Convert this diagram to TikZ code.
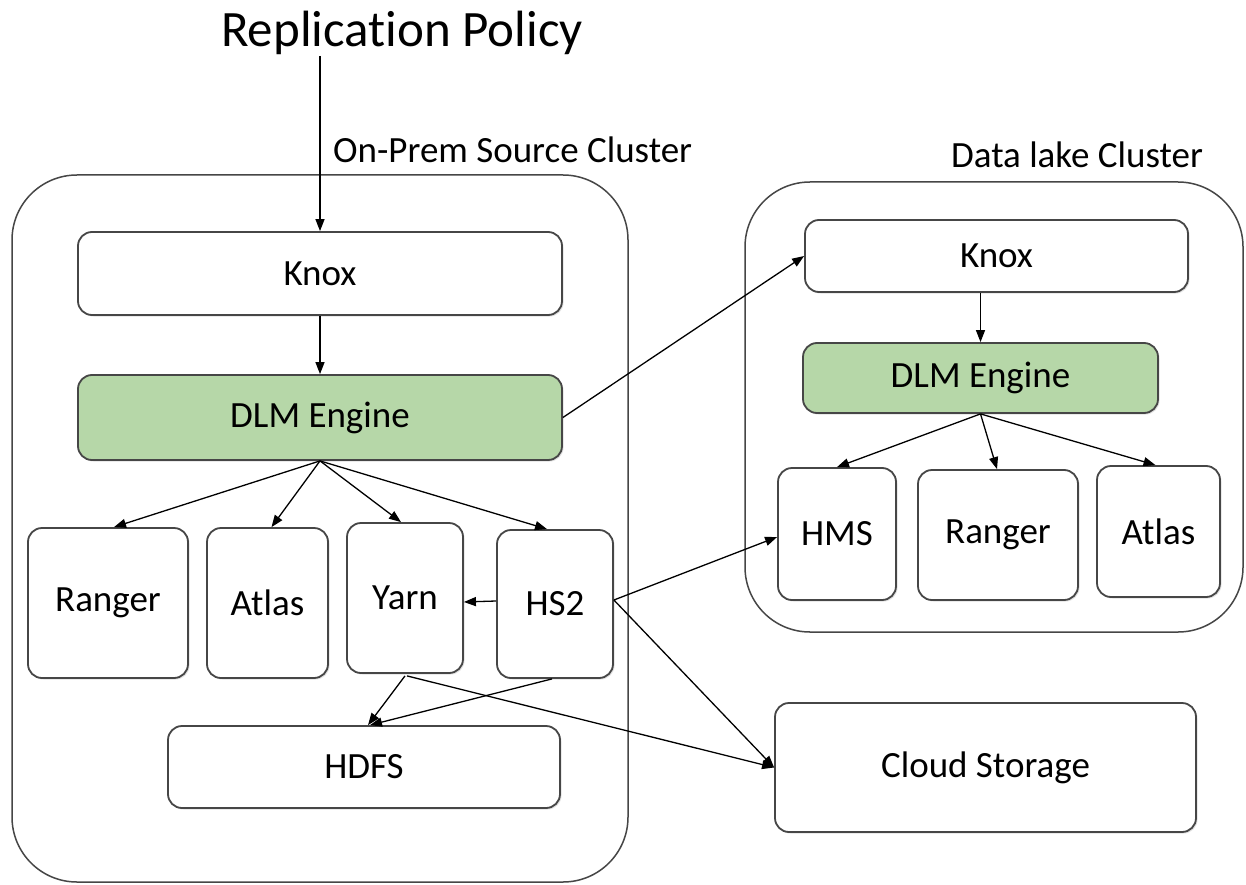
\documentclass[tikz,border=0pt]{standalone}
\usepackage{fontspec}
\setmainfont{Carlito}[Ligatures=NoCommon]
\usetikzlibrary{arrows.meta,shadows,calc}
\definecolor{dlmgreen}{RGB}{182,215,168}
\definecolor{edgegray}{RGB}{70,70,70}
\tikzset{
  box/.style={draw=edgegray, line width=1.8pt, rounded corners=14pt, fill=white,
    inner sep=0pt, font=\fontsize{37}{40}\selectfont,
    drop shadow={opacity=0.25, shadow xshift=1.5pt, shadow yshift=-1.5pt}},
  greenbox/.style={box, fill=dlmgreen},
  cluster/.style={draw=edgegray, line width=1.5pt, rounded corners=65pt, inner sep=0pt},
  lbl/.style={font=\fontsize{37}{40}\selectfont, inner sep=0pt},
  arr/.style={-{Triangle[length=12pt,width=9pt]}, line width=1.3pt, black}
}
\begin{document}
\begin{tikzpicture}[x=1pt,y=-1pt]
\useasboundingbox (0,0) rectangle (1246,885);
\fill[white] (0,0) rectangle (1246,885);
% clusters
\node[cluster, minimum width=616pt, minimum height=707pt] (srccl) at (320,528.5) {};
\node[cluster, minimum width=498pt, minimum height=450pt] (dlcl) at (994,407) {};
% labels
\node[font=\fontsize{51}{55}\selectfont, inner sep=0pt] (title) at (402,33) {Replication Policy};
\node[lbl, anchor=west] (srclbl) at (333,150) {On-Prem Source Cluster};
\node[lbl] (dllbl) at (1077,155) {Data lake Cluster};
% source cluster boxes
\node[box, minimum width=484pt, minimum height=83pt] (knox) at (320,273.5) {Knox};
\node[greenbox, minimum width=484pt, minimum height=85pt] (dlm) at (320,417.5) {DLM Engine};
\node[box, minimum width=160pt, minimum height=150pt] (ranger) at (108,603) {Ranger};
\node[box, minimum width=121pt, minimum height=150pt] (atlas) at (267.5,603) {Atlas};
\node[box, minimum width=116pt, minimum height=150pt] (yarn) at (405,598) {};
\node[lbl] (yarnlbl) at (405,598) {Yarn};
\node[box, minimum width=116pt, minimum height=148pt] (hs2) at (555,604) {HS2};
\node[box, minimum width=392pt, minimum height=82pt] (hdfs) at (364,767) {HDFS};
% data lake boxes
\node[box, minimum width=383pt, minimum height=72pt] (knox2) at (996.5,256) {Knox};
\node[greenbox, minimum width=355pt, minimum height=70pt] (dlm2) at (980.5,378) {DLM Engine};
\node[box, minimum width=118pt, minimum height=132pt] (hms) at (837,534) {HMS};
\node[box, minimum width=160pt, minimum height=130pt] (ranger2) at (998,535) {Ranger};
\node[box, minimum width=123pt, minimum height=131pt] (atlas2) at (1158.5,531.5) {Atlas};
\node[box, minimum width=421pt, minimum height=129pt] (cloud) at (985.5,767.5) {Cloud Storage};
% connectors
\coordinate (tstart) at (knox.north |- 0,56);
\draw[arr] (tstart) -- (knox.north);
\draw[arr] (knox.south) -- (dlm.north);
\draw[arr] (dlm.south) -- ($(ranger.north)+(6,0)$);
\draw[arr] (dlm.south) -- ($(atlas.north)+(4,0)$);
\draw[arr] (dlm.south) -- ($(yarn.north)+(-4,0)$);
\draw[arr] (dlm.south) -- ($(hs2.north)+(-8,0)$);
\draw[arr] (dlm.east) -- (knox2.west);
\draw[arr] (knox2.south -| dlm2.north) -- (dlm2.north);
\draw[arr] (dlm2.south) -- (hms.north);
\draw[arr] (dlm2.south) -- ($(ranger2.north)+(-1,0)$);
\draw[arr] (dlm2.south) -- ($(atlas2.north)+(-3,0)$);
\draw[arr] ($(hs2.west)+(0,-3)$) -- ($(yarn.east)+(0,4)$);
\draw[arr] ($(yarn.south)+(0,2)$) -- ($(hdfs.north)+(4,0)$);
\draw[arr] ($(hs2.south)+(-3,0)$) -- ($(hdfs.north)+(6,0)$);
\draw[arr] ($(yarn.south)+(2,2)$) -- (cloud.west);
\draw[arr] ($(hs2.east)+(0,-4)$) -- ($(hms.west)+(0,3)$);
\draw[arr] ($(hs2.east)+(0,-4)$) -- (cloud.west);
\end{tikzpicture}
\end{document}
